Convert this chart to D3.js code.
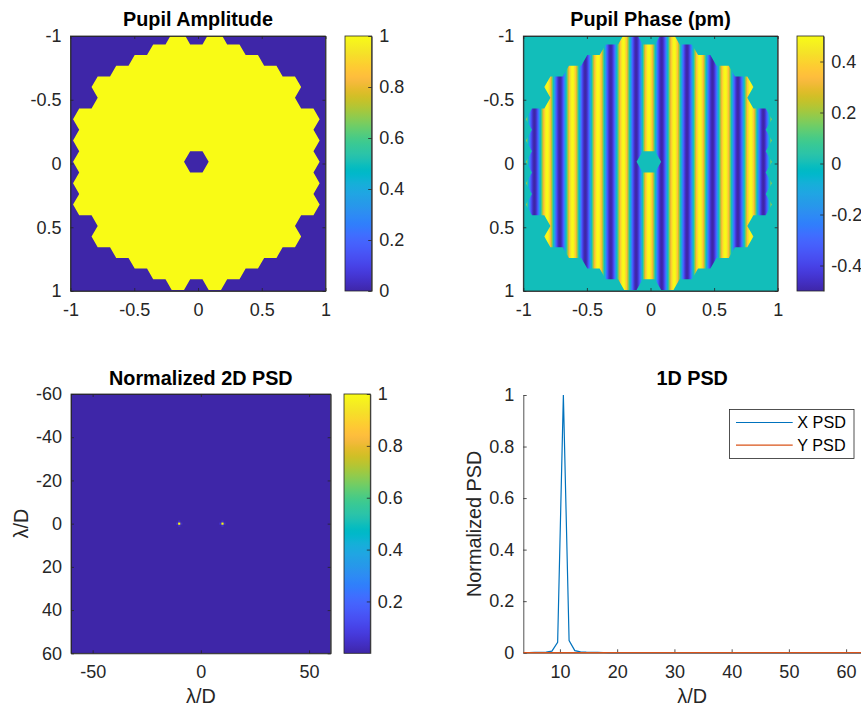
<!DOCTYPE html>
<html><head><meta charset="utf-8">
<script src="https://cdn.jsdelivr.net/npm/d3@7"></script>
<style>body{margin:0;background:#fff}svg{display:block}</style>
</head><body><svg id="fig" width="861" height="709"></svg>
<script>
// ---------------- DATA ----------------
// Segmented pupil: hexagon columns (-6..6) and the largest |row| (in units of row pitch) per column
const segmentColumns = [-6, -5, -4, -3, -2, -1, 0, 1, 2, 3, 4, 5, 6];
const segmentRowExtent = [2, 3.5, 4, 4.5, 5, 5.5, 5, 5.5, 5, 4.5, 4, 3.5, 2];
const missingSegments = [[0, 0]];         // central obscuration
const segmentRowPitch = 0.1675;           // pupil units
const pupilCenter = [-0.013, -0.013];     // pupil units
// Pupil phase: vertical sinusoidal ripple (pm)
const phaseAmplitudePm = 0.5;
const phaseCyclesPerPupil = 10;           // cycles across the 2-unit pupil
// 2D PSD: non-zero cells (lambda/D)
const psd2dCells = [
  {fx: -10, fy: 0, v: 1}, {fx: 10, fy: 0, v: 1},
  {fx: -11, fy: 0, v: 0.05}, {fx: -9, fy: 0, v: 0.04}, {fx: -10, fy: -1, v: 0.04}, {fx: -10, fy: 1, v: 0.04},
  {fx: 9, fy: 0, v: 0.05}, {fx: 11, fy: 0, v: 0.04}, {fx: 10, fy: -1, v: 0.04}, {fx: 10, fy: 1, v: 0.04}
];
// 1D PSD
const psdFreq = [3.6,4.6,5.6,6.6,7.6,8.6,9.6,10.6,11.6,12.6,13.6,14.6,15.6,16.6,17.6,18.6,19.6,20.6,21.6,22.6,
  23.6,24.6,25.6,26.6,27.6,28.6,29.6,30.6,31.6,32.6,33.6,34.6,35.6,36.6,37.6,38.6,39.6,40.6,41.6,42.6,
  43.6,44.6,45.6,46.6,47.6,48.6,49.6,50.6,51.6,52.6,53.6,54.6,55.6,56.6,57.6,58.6,59.6,60.6,61.6,62.6];
const xPsd = [0.0005,0.0007,0.001,0.0015,0.002,0.006,0.04,1,0.047,0.008,0.003,0.002,0.0015,0.001,0.0008,0.0006,0.0005,0.0004,0.0003,0.0003,
  0.0002,0.0002,0.0002,0.0002,0.0001,0.0001,0.0001,0.0001,0.0001,0.0001,0.0001,0.0001,0.0001,0.0001,0.0001,0.0001,0.0001,0.0001,0.0001,0.0001,
  0.0001,0.0001,0.0001,0.0001,0.0001,0.0001,0.0001,0.0001,0.0001,0.0001,0.0001,0.0001,0.0001,0.0001,0.0001,0.0001,0.0001,0.0001,0.0001,0.0001];
const yPsd = [0,0,0,0,0,0,0,0,0,0,0,0,0,0,0,0,0,0,0,0,
  0,0,0,0,0,0,0,0,0,0,0,0,0,0,0,0,0,0,0,0,
  0,0,0,0,0,0,0,0,0,0,0,0,0,0,0,0,0,0,0,0];
const seriesNames = ["X PSD", "Y PSD"];
// Tick values
const pupilTicks = [-1, -0.5, 0, 0.5, 1];
const ampBarTicks = [0, 0.2, 0.4, 0.6, 0.8, 1];
const phaseBarTicks = [-0.4, -0.2, 0, 0.2, 0.4];
const psd2dXTicks = [-50, 0, 50];
const psd2dYTicks = [-60, -40, -20, 0, 20, 40, 60];
const psd2dBarTicks = [0.2, 0.4, 0.6, 0.8, 1];
const psd1dXTicks = [10, 20, 30, 40, 50, 60];
const psd1dYTicks = [0, 0.2, 0.4, 0.6, 0.8, 1];
const titles = ["Pupil Amplitude", "Pupil Phase (pm)", "Normalized 2D PSD", "1D PSD"];

// parula colormap (64)
const parulaRGB = [[0.2422,0.1504,0.6603],[0.2504,0.1650,0.7076],[0.2578,0.1818,0.7511],[0.2647,0.1978,0.7952],[0.2706,0.2147,0.8364],[0.2751,0.2342,0.8710],[0.2783,0.2559,0.8991],[0.2803,0.2782,0.9221],[0.2813,0.3006,0.9414],[0.2810,0.3228,0.9579],[0.2795,0.3447,0.9717],[0.2760,0.3667,0.9829],[0.2699,0.3892,0.9906],[0.2602,0.4123,0.9952],[0.2440,0.4358,0.9988],[0.2206,0.4603,0.9973],[0.1963,0.4847,0.9892],[0.1834,0.5074,0.9798],[0.1786,0.5289,0.9682],[0.1764,0.5499,0.9520],[0.1687,0.5703,0.9359],[0.1540,0.5902,0.9218],[0.1460,0.6091,0.9079],[0.1380,0.6276,0.8973],[0.1248,0.6459,0.8883],[0.1113,0.6635,0.8763],[0.0952,0.6798,0.8598],[0.0689,0.6948,0.8394],[0.0297,0.7082,0.8163],[0.0036,0.7203,0.7917],[0.0067,0.7312,0.7660],[0.0433,0.7411,0.7394],[0.0964,0.7500,0.7120],[0.1408,0.7584,0.6842],[0.1717,0.7670,0.6554],[0.1938,0.7758,0.6251],[0.2161,0.7843,0.5923],[0.2470,0.7918,0.5567],[0.2906,0.7973,0.5188],[0.3406,0.8008,0.4789],[0.3909,0.8029,0.4354],[0.4456,0.8024,0.3909],[0.5044,0.7993,0.3480],[0.5616,0.7942,0.3045],[0.6174,0.7876,0.2612],[0.6720,0.7793,0.2227],[0.7242,0.7698,0.1910],[0.7738,0.7598,0.1646],[0.8203,0.7498,0.1535],[0.8634,0.7406,0.1596],[0.9035,0.7330,0.1774],[0.9393,0.7288,0.2100],[0.9728,0.7298,0.2394],[0.9956,0.7434,0.2371],[0.9970,0.7659,0.2199],[0.9952,0.7893,0.2028],[0.9892,0.8136,0.1885],[0.9786,0.8386,0.1766],[0.9676,0.8639,0.1643],[0.9610,0.8890,0.1537],[0.9597,0.9135,0.1423],[0.9628,0.9373,0.1265],[0.9691,0.9606,0.1064],[0.9769,0.9839,0.0805]];
const parulaCols = parulaRGB.map(c => d3.rgb(c[0]*255, c[1]*255, c[2]*255).formatHex());
const parula = d3.scaleLinear().domain(parulaCols.map((c, i) => i / (parulaCols.length - 1))).range(parulaCols).interpolate(d3.interpolateRgb).clamp(true);

// ---------------- DRAW ----------------
const FONT = '"Liberation Sans", Arial, Helvetica, sans-serif';
const AX = "#262626";
const TICK_FS = 18, LABEL_FS = 19.8, LEG_FS = 16.2;
const svg = d3.select("#fig");
svg.append("rect").attr("width", 861).attr("height", 709).attr("fill", "#fff");
const defs = svg.append("defs");
const fmt = d => String(d);

function styleAxis(g) {
  g.attr("font-family", FONT).attr("font-size", TICK_FS);
  g.selectAll("path,line").attr("stroke", AX).attr("stroke-width", 0.8);
  g.selectAll("text").attr("fill", AX);
}
function boxAxes(xs, ys, xTicks, yTicks, tl, box) {
  const [xl, xr] = xs.range();
  const yb = Math.max(...ys.range()), yt = Math.min(...ys.range());
  styleAxis(svg.append("g").attr("transform", `translate(0,${yb})`)
    .call(d3.axisBottom(xs).tickValues(xTicks).tickFormat(fmt).tickSizeInner(-tl).tickSizeOuter(0).tickPadding(12.3)));
  styleAxis(svg.append("g").attr("transform", `translate(${xl},0)`)
    .call(d3.axisLeft(ys).tickValues(yTicks).tickFormat(fmt).tickSizeInner(-tl).tickSizeOuter(0).tickPadding(9)));
  if (box) {
    styleAxis(svg.append("g").attr("transform", `translate(0,${yt})`)
      .call(d3.axisTop(xs).tickValues(xTicks).tickFormat("").tickSizeInner(-tl).tickSizeOuter(0)));
    styleAxis(svg.append("g").attr("transform", `translate(${xr},0)`)
      .call(d3.axisRight(ys).tickValues(yTicks).tickFormat("").tickSizeInner(-tl).tickSizeOuter(0)));
  }
}
function title(txt, x, y) {
  svg.append("text").attr("x", x).attr("y", y).attr("text-anchor", "middle")
    .attr("font-family", FONT).attr("font-size", LABEL_FS).attr("font-weight", "bold").attr("fill", "#000").text(txt);
}
function label(txt, x, y, rot) {
  const t = svg.append("text").attr("text-anchor", "middle").attr("font-family", FONT)
    .attr("font-size", LABEL_FS).attr("fill", AX).text(txt);
  if (rot) t.attr("transform", `translate(${x},${y}) rotate(-90)`); else t.attr("x", x).attr("y", y);
}
function colorbar(id, x0, x1, y0, y1, domain, ticks) {
  const g = defs.append("linearGradient").attr("id", id).attr("x1", 0).attr("x2", 0).attr("y1", 1).attr("y2", 0);
  parulaCols.forEach((c, i) => g.append("stop").attr("offset", i / (parulaCols.length - 1)).attr("stop-color", c));
  svg.append("rect").attr("x", x0).attr("y", y0).attr("width", x1 - x0).attr("height", y1 - y0).attr("fill", `url(#${id})`);
  const cs = d3.scaleLinear(domain, [y1, y0]);
  styleAxis(svg.append("g").attr("transform", `translate(${x1},0)`)
    .call(d3.axisRight(cs).tickValues(ticks).tickFormat(fmt).tickSizeInner(-3.5).tickSizeOuter(0).tickPadding(7.5)));
  svg.append("rect").attr("x", x0).attr("y", y0).attr("width", x1 - x0).attr("height", y1 - y0)
    .attr("fill", "none").attr("stroke", AX).attr("stroke-width", 0.8);
}
function clipRect(id, x0, x1, y0, y1) {
  defs.append("clipPath").attr("id", id).append("rect").attr("x", x0).attr("y", y0).attr("width", x1 - x0).attr("height", y1 - y0);
}
// hexagon segments
const hexR = segmentRowPitch / Math.sqrt(3);
const segments = [];
segmentColumns.forEach((c, i) => {
  const e = segmentRowExtent[i];
  for (let k = -e; k <= e + 1e-9; k += 1) {
    if (missingSegments.some(m => m[0] === c && Math.abs(m[1] - k) < 1e-9)) continue;
    segments.push({cx: pupilCenter[0] + c * 1.5 * hexR, cy: pupilCenter[1] + k * segmentRowPitch});
  }
});
function pupilPath(xs, ys) {
  return segments.map(s => "M" + d3.range(6).map(j => {
    const a = j * Math.PI / 3;
    return [xs(s.cx + hexR * Math.cos(a)).toFixed(2), ys(s.cy + hexR * Math.sin(a)).toFixed(2)].join(",");
  }).join("L") + "Z").join("");
}

// ---- Panel 1: Pupil Amplitude
{
  const xs = d3.scaleLinear([-1, 1], [70.5, 325.5]), ys = d3.scaleLinear([-1, 1], [36, 291]);
  clipRect("c1", 70.5, 325.5, 36, 291);
  const g = svg.append("g").attr("clip-path", "url(#c1)");
  g.append("rect").attr("x", 70.5).attr("y", 36).attr("width", 255).attr("height", 255).attr("fill", parula(0));
  g.append("path").attr("d", pupilPath(xs, ys)).attr("fill", parula(1));
  boxAxes(xs, ys, pupilTicks, pupilTicks, 3, true);
  svg.append("rect").attr("x", 70.5).attr("y", 36).attr("width", 255).attr("height", 255).attr("fill", "none").attr("stroke", AX).attr("stroke-width", 0.8);
  title(titles[0], 198, 26);
  colorbar("cb1", 345, 371.7, 36, 291, [0, 1], ampBarTicks);
}
// ---- Panel 2: Pupil Phase
{
  const x0 = 523.3, x1 = 777.7;
  const xs = d3.scaleLinear([-1, 1], [x0, x1]), ys = d3.scaleLinear([-1, 1], [36, 291]);
  const period = 2 / phaseCyclesPerPupil;
  const grad = defs.append("linearGradient").attr("id", "stripes").attr("gradientUnits", "userSpaceOnUse")
    .attr("x1", xs(pupilCenter[0])).attr("x2", xs(pupilCenter[0] + period)).attr("y1", 0).attr("y2", 0).attr("spreadMethod", "repeat");
  const pcol = d3.scaleLinear([-0.5, 0.5], [0, 1]);
  for (let i = 0; i <= 48; i++) {
    const t = i / 48;
    grad.append("stop").attr("offset", t).attr("stop-color", parula(pcol(phaseAmplitudePm * Math.cos(2 * Math.PI * t))));
  }
  clipRect("c2", x0, x1, 36, 291);
  const g = svg.append("g").attr("clip-path", "url(#c2)");
  g.append("rect").attr("x", x0).attr("y", 36).attr("width", x1 - x0).attr("height", 255).attr("fill", parula(pcol(0)));
  g.append("path").attr("d", pupilPath(xs, ys)).attr("fill", "url(#stripes)");
  boxAxes(xs, ys, pupilTicks, pupilTicks, 3, true);
  svg.append("rect").attr("x", x0).attr("y", 36).attr("width", x1 - x0).attr("height", 255).attr("fill", "none").attr("stroke", AX).attr("stroke-width", 0.8);
  title(titles[1], (x0 + x1) / 2, 26);
  colorbar("cb2", 797, 823.7, 36, 291, [-0.5, 0.5], phaseBarTicks);
}
// ---- Panel 3: Normalized 2D PSD
{
  const x0 = 71, x1 = 330.7, y0 = 394, y1 = 653.3;
  const xs = d3.scaleLinear([-60, 60], [x0, x1]), ys = d3.scaleLinear([-60, 60], [y0, y1]);
  clipRect("c3", x0, x1, y0, y1);
  const g = svg.append("g").attr("clip-path", "url(#c3)");
  g.append("rect").attr("x", x0).attr("y", y0).attr("width", x1 - x0).attr("height", y1 - y0).attr("fill", parula(0));
  g.selectAll("rect.cell").data(psd2dCells.slice().sort((a, b) => a.v - b.v)).join("rect").attr("class", "cell")
    .attr("x", d => xs(d.fx - 0.5)).attr("y", d => ys(d.fy - 0.5))
    .attr("width", d => xs(d.fx + 0.5) - xs(d.fx - 0.5)).attr("height", d => ys(d.fy + 0.5) - ys(d.fy - 0.5))
    .attr("fill", d => parula(d.v));
  boxAxes(xs, ys, psd2dXTicks, psd2dYTicks, 3, true);
  svg.append("rect").attr("x", x0).attr("y", y0).attr("width", x1 - x0).attr("height", y1 - y0).attr("fill", "none").attr("stroke", AX).attr("stroke-width", 0.8);
  title(titles[2], (x0 + x1) / 2, 385);
  label("\u03BB/D", (x0 + x1) / 2, 703, false);
  label("\u03BB/D", 28.3, (y0 + y1) / 2, true);
  colorbar("cb3", 344, 370.3, y0, y1, [0, 1], psd2dBarTicks);
}
// ---- Panel 4: 1D PSD
{
  const x0 = 523.3, x1 = 861, y0 = 395, y1 = 652.7;
  const xs = d3.scaleLinear([3.6, 62.6], [x0, x1]), ys = d3.scaleLinear([0, 1], [y1, y0]);
  boxAxes(xs, ys, psd1dXTicks, psd1dYTicks, 3.4, false);
  const line = d3.line().x(d => xs(d[0])).y(d => ys(d[1]));
  svg.append("path").datum(psdFreq.map((f, i) => [f, xPsd[i]])).attr("d", line)
    .attr("fill", "none").attr("stroke", "#0072BD").attr("stroke-width", 1.2);
  svg.append("path").datum(psdFreq.map((f, i) => [f, yPsd[i]])).attr("d", line)
    .attr("fill", "none").attr("stroke", "#D95319").attr("stroke-width", 1.2);
  title(titles[3], (x0 + x1) / 2, 385);
  label("\u03BB/D", (x0 + x1) / 2, 703, false);
  label("Normalized PSD", 480.7, (y0 + y1) / 2, true);
  // legend
  const lg = svg.append("g");
  lg.append("rect").attr("x", 729.5).attr("y", 409.5).attr("width", 124.5).attr("height", 49)
    .attr("fill", "#fff").attr("stroke", AX).attr("stroke-width", 0.8);
  const colors = ["#0072BD", "#D95319"];
  seriesNames.forEach((n, i) => {
    const yy = 422.5 + i * 22.7;
    lg.append("line").attr("x1", 736).attr("x2", 792.7).attr("y1", yy).attr("y2", yy)
      .attr("stroke", colors[i]).attr("stroke-width", 1.2);
    lg.append("text").attr("x", 797.3).attr("y", yy).attr("dy", "0.36em").attr("font-family", FONT)
      .attr("font-size", LEG_FS).attr("fill", "#000").text(n);
  });
}
</script></body></html>
